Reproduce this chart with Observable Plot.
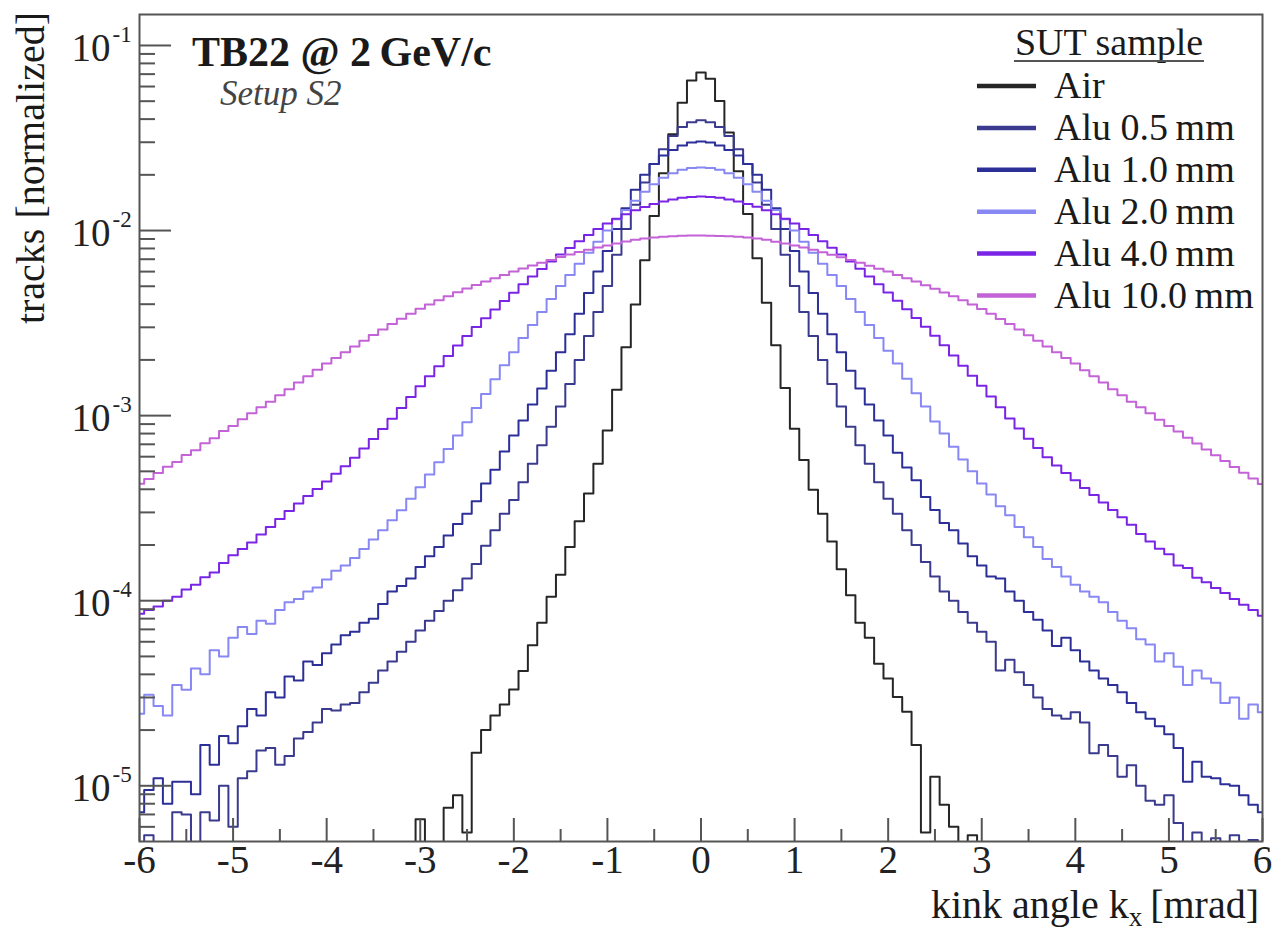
<!DOCTYPE html>
<html>
<head>
<meta charset="utf-8">
<script src="https://cdn.jsdelivr.net/npm/d3@7"></script>
<script src="https://cdn.jsdelivr.net/npm/@observablehq/plot@0.6"></script>
<style>
  html, body { margin: 0; padding: 0; background: #fff; }
  svg { display: block; }
</style>
</head>
<body>
<div id="chart"></div>
<script>
// Bin centres of the kink-angle histograms [mrad], 0.1 mrad bins
const kinkAngle = d3.range(-60, 61).map(i => i / 10);

// Normalised track counts per bin (0 = empty bin)
const air = [
  0,0,0,0,0,0,0,0,0,0,
  0,0,0,0,0,0,0,0,0,0,
  0,0,0,0,0,0,0,0,0,0,
  6.6e-6,0,0,7.6e-6,8.9e-6,5.6e-6,1.51e-5,2.0e-5,2.4e-5,2.75e-5,
  3.31e-5,4.17e-5,5.75e-5,7.6e-5,1.05e-4,1.38e-4,1.95e-4,2.69e-4,3.8e-4,5.5e-4,
  8.3e-4,1.38e-3,2.34e-3,3.98e-3,6.92e-3,1.2e-2,2.04e-2,3.31e-2,4.9e-2,6.46e-2,
  7.14e-2,
  6.61e-2,5.01e-2,3.39e-2,2.09e-2,1.23e-2,7.08e-3,4.07e-3,2.4e-3,1.41e-3,8.5e-4,
  5.75e-4,3.98e-4,2.95e-4,2.09e-4,1.48e-4,1.07e-4,7.6e-5,6.3e-5,4.57e-5,3.8e-5,
  3.02e-5,2.51e-5,1.66e-5,5.6e-6,1.12e-5,7.9e-6,6.0e-6,0,5.4e-6,0,
  0,0,0,0,0,0,0,0,0,0,
  0,0,0,0,0,0,0,0,0,0,
  0,0,0,0,0,0,0,0,0,0
];
const alu05 = [
  3.0e-6,5.4e-6,3.0e-6,4.0e-6,7.2e-6,7.0e-6,4.0e-6,7.2e-6,6.5e-6,1.0e-5,
  6.0e-6,1.1e-5,1.2e-5,1.55e-5,1.6e-5,1.3e-5,1.45e-5,1.8e-5,1.95e-5,2.2e-5,
  2.6e-5,2.55e-5,2.75e-5,2.8e-5,3.2e-5,3.6e-5,4.2e-5,4.7e-5,5.3e-5,6.0e-5,
  6.9e-5,7.8e-5,8.8e-5,1.0e-4,1.14e-4,1.32e-4,1.58e-4,1.98e-4,2.4e-4,2.95e-4,
  3.5e-4,4.37e-4,5.5e-4,6.92e-4,8.71e-4,1.12e-3,1.48e-3,2.0e-3,2.69e-3,3.63e-3,
  5.01e-3,7.41e-3,1.02e-2,1.38e-2,1.82e-2,2.29e-2,2.75e-2,3.24e-2,3.63e-2,3.85e-2,
  3.94e-2,
  3.85e-2,3.63e-2,3.24e-2,2.75e-2,2.29e-2,1.82e-2,1.38e-2,1.02e-2,7.41e-3,5.01e-3,
  3.63e-3,2.69e-3,2.0e-3,1.48e-3,1.12e-3,8.71e-4,6.92e-4,5.5e-4,4.37e-4,3.55e-4,
  2.95e-4,2.4e-4,2.0e-4,1.62e-4,1.35e-4,1.12e-4,1.0e-4,8.7e-5,7.6e-5,6.8e-5,
  6.0e-5,4.2e-5,4.8e-5,4.1e-5,3.5e-5,3.0e-5,2.6e-5,2.4e-5,2.3e-5,2.5e-5,
  2.2e-5,1.5e-5,1.66e-5,1.45e-5,1.12e-5,1.29e-5,1.0e-5,8.3e-6,7.9e-6,8.9e-6,
  6.3e-6,4.5e-6,5.6e-6,4.0e-6,5.2e-6,3.5e-6,5.4e-6,3.2e-6,5.1e-6,3.2e-6
];
const alu10 = [
  7.2e-6,9.5e-6,1.1e-5,8.0e-6,1.05e-5,1.05e-5,9.0e-6,1.66e-5,1.3e-5,1.86e-5,
  1.7e-5,2.1e-5,2.6e-5,2.4e-5,3.2e-5,3.0e-5,3.9e-5,3.7e-5,4.7e-5,4.5e-5,
  5.2e-5,5.8e-5,6.5e-5,6.8e-5,7.6e-5,8.0e-5,9.6e-5,1.12e-4,1.2e-4,1.32e-4,
  1.52e-4,1.74e-4,1.95e-4,2.25e-4,2.6e-4,2.95e-4,3.45e-4,4.3e-4,5.1e-4,6.4e-4,
  7.8e-4,9.4e-4,1.15e-3,1.4e-3,1.75e-3,2.2e-3,2.75e-3,3.55e-3,4.6e-3,6.0e-3,
  7.76e-3,1.02e-2,1.32e-2,1.66e-2,2.0e-2,2.29e-2,2.54e-2,2.72e-2,2.88e-2,2.99e-2,
  3.03e-2,
  2.99e-2,2.88e-2,2.72e-2,2.54e-2,2.29e-2,2.0e-2,1.66e-2,1.32e-2,1.02e-2,7.76e-3,
  6.0e-3,4.6e-3,3.55e-3,2.75e-3,2.2e-3,1.75e-3,1.4e-3,1.15e-3,9.4e-4,7.8e-4,
  6.31e-4,5.25e-4,4.47e-4,3.63e-4,3.09e-4,2.63e-4,2.4e-4,2.04e-4,1.74e-4,1.55e-4,
  1.35e-4,1.32e-4,1.12e-4,1.0e-4,8.7e-5,7.9e-5,6.9e-5,5.7e-5,6.3e-5,5.4e-5,
  4.7e-5,4.2e-5,3.8e-5,3.5e-5,3.2e-5,2.8e-5,2.5e-5,2.3e-5,2.1e-5,1.9e-5,
  1.6e-5,1.05e-5,1.35e-5,1.12e-5,1.1e-5,1.02e-5,1.0e-5,8.9e-6,7.9e-6,7.2e-6
];
const alu20 = [
  2.45e-5,3.1e-5,2.7e-5,2.4e-5,3.5e-5,3.3e-5,4.3e-5,4.0e-5,5.4e-5,5.0e-5,
  6.3e-5,7.2e-5,6.6e-5,7.8e-5,7.5e-5,8.9e-5,9.8e-5,1.02e-4,1.12e-4,1.18e-4,
  1.3e-4,1.45e-4,1.55e-4,1.7e-4,1.9e-4,2.14e-4,2.4e-4,2.72e-4,3.08e-4,3.55e-4,
  4.1e-4,4.8e-4,5.6e-4,6.6e-4,7.8e-4,9.2e-4,1.1e-3,1.31e-3,1.57e-3,1.87e-3,
  2.2e-3,2.63e-3,3.09e-3,3.63e-3,4.27e-3,5.01e-3,5.75e-3,6.61e-3,7.59e-3,8.71e-3,
  1.0e-2,1.15e-2,1.29e-2,1.45e-2,1.62e-2,1.78e-2,1.93e-2,2.04e-2,2.13e-2,2.18e-2,
  2.19e-2,
  2.18e-2,2.13e-2,2.04e-2,1.93e-2,1.78e-2,1.62e-2,1.45e-2,1.29e-2,1.15e-2,1.0e-2,
  8.71e-3,7.59e-3,6.61e-3,5.75e-3,5.01e-3,4.27e-3,3.63e-3,3.09e-3,2.63e-3,2.24e-3,
  1.91e-3,1.58e-3,1.32e-3,1.12e-3,9.3e-4,8.0e-4,6.8e-4,5.8e-4,5.0e-4,4.3e-4,
  3.75e-4,3.24e-4,2.9e-4,2.5e-4,2.2e-4,1.95e-4,1.68e-4,1.52e-4,1.35e-4,1.22e-4,
  1.12e-4,1.05e-4,9.8e-5,8.7e-5,7.8e-5,7.1e-5,6.2e-5,5.8e-5,4.7e-5,5.2e-5,
  4.4e-5,3.5e-5,4.2e-5,3.8e-5,3.6e-5,2.8e-5,3.0e-5,2.3e-5,2.75e-5,2.5e-5
];
const alu40 = [
  8.5e-5,8.9e-5,9.3e-5,1.0e-4,1.05e-4,1.15e-4,1.22e-4,1.34e-4,1.42e-4,1.6e-4,
  1.76e-4,1.9e-4,2.06e-4,2.28e-4,2.5e-4,2.76e-4,3.05e-4,3.35e-4,3.68e-4,4.02e-4,
  4.4e-4,4.85e-4,5.33e-4,5.92e-4,6.65e-4,7.48e-4,8.48e-4,9.62e-4,1.1e-3,1.26e-3,
  1.44e-3,1.63e-3,1.85e-3,2.1e-3,2.39e-3,2.69e-3,3.01e-3,3.36e-3,3.75e-3,4.16e-3,
  4.61e-3,5.12e-3,5.64e-3,6.2e-3,6.8e-3,7.42e-3,8.06e-3,8.74e-3,9.45e-3,1.018e-2,
  1.09e-2,1.158e-2,1.224e-2,1.287e-2,1.342e-2,1.392e-2,1.434e-2,1.471e-2,1.502e-2,1.519e-2,
  1.528e-2,
  1.52e-2,1.503e-2,1.472e-2,1.435e-2,1.393e-2,1.343e-2,1.288e-2,1.225e-2,1.159e-2,1.091e-2,
  1.019e-2,9.46e-3,8.75e-3,8.07e-3,7.43e-3,6.81e-3,6.21e-3,5.65e-3,5.13e-3,4.62e-3,
  4.17e-3,3.76e-3,3.37e-3,3.02e-3,2.7e-3,2.4e-3,2.11e-3,1.86e-3,1.64e-3,1.45e-3,
  1.27e-3,1.11e-3,9.66e-4,8.51e-4,7.5e-4,6.68e-4,5.96e-4,5.37e-4,4.9e-4,4.47e-4,
  4.07e-4,3.72e-4,3.39e-4,3.09e-4,2.82e-4,2.57e-4,2.29e-4,2.09e-4,1.91e-4,1.78e-4,
  1.55e-4,1.5e-4,1.33e-4,1.26e-4,1.17e-4,1.1e-4,1.02e-4,9.5e-5,8.9e-5,8.3e-5
];
const alu100 = [
  4.29e-4,4.55e-4,4.9e-4,5.3e-4,5.62e-4,6.12e-4,6.5e-4,7.1e-4,7.55e-4,8.25e-4,
  8.8e-4,9.55e-4,1.03e-3,1.11e-3,1.19e-3,1.29e-3,1.39e-3,1.51e-3,1.63e-3,1.77e-3,
  1.91e-3,2.05e-3,2.2e-3,2.36e-3,2.54e-3,2.73e-3,2.92e-3,3.13e-3,3.34e-3,3.55e-3,
  3.78e-3,3.99e-3,4.2e-3,4.42e-3,4.64e-3,4.86e-3,5.08e-3,5.3e-3,5.53e-3,5.76e-3,
  6.0e-3,6.23e-3,6.47e-3,6.7e-3,6.94e-3,7.19e-3,7.42e-3,7.65e-3,7.88e-3,8.1e-3,
  8.31e-3,8.52e-3,8.72e-3,8.92e-3,9.07e-3,9.17e-3,9.26e-3,9.32e-3,9.36e-3,9.39e-3,
  9.4e-3,
  9.38e-3,9.35e-3,9.31e-3,9.25e-3,9.16e-3,9.06e-3,8.91e-3,8.71e-3,8.51e-3,8.3e-3,
  8.09e-3,7.87e-3,7.64e-3,7.41e-3,7.18e-3,6.93e-3,6.7e-3,6.46e-3,6.22e-3,6.0e-3,
  5.75e-3,5.52e-3,5.3e-3,5.07e-3,4.85e-3,4.63e-3,4.42e-3,4.2e-3,3.98e-3,3.77e-3,
  3.55e-3,3.33e-3,3.13e-3,2.92e-3,2.72e-3,2.54e-3,2.36e-3,2.2e-3,2.05e-3,1.91e-3,
  1.76e-3,1.63e-3,1.51e-3,1.39e-3,1.29e-3,1.19e-3,1.11e-3,1.03e-3,9.5e-4,8.8e-4,
  8.2e-4,7.6e-4,7.06e-4,6.56e-4,6.1e-4,5.68e-4,5.28e-4,4.92e-4,4.58e-4,4.27e-4
];

const seriesNames = ["Air", "Alu 0.5mm", "Alu 1.0mm", "Alu 2.0mm", "Alu 4.0mm", "Alu 10.0mm"];
const seriesLabels = ["Air", "Alu 0.5\u2009mm", "Alu 1.0\u2009mm", "Alu 2.0\u2009mm", "Alu 4.0\u2009mm", "Alu 10.0\u2009mm"];
const seriesValues = [air, alu05, alu10, alu20, alu40, alu100];
const seriesColors = ["#262626", "#3a3a8e", "#2c2f98", "#8888f4", "#7a24e6", "#c462d8"];

const xTicks = [-6, -5, -4, -3, -2, -1, 0, 1, 2, 3, 4, 5, 6];
const xTickLabels = ["-6", "-5", "-4", "-3", "-2", "-1", "0", "1", "2", "3", "4", "5", "6"];
const xHalfTicks = [-5.5, -4.5, -3.5, -2.5, -1.5, -0.5, 0.5, 1.5, 2.5, 3.5, 4.5, 5.5];
const yDecades = [1e-5, 1e-4, 1e-3, 1e-2, 1e-1];
const yExponents = ["-5", "-4", "-3", "-2", "-1"];

const Y_MIN = 5e-6, Y_MAX = 0.147;
const yMinor = [];
for (let e = -6; e <= -1; e++) for (let k = 2; k <= 9; k++) {
  const v = k * Math.pow(10, e);
  if (v > Y_MIN && v < Y_MAX) yMinor.push(v);
}

const rows = [];
seriesValues.forEach((vals, s) => vals.forEach((v, i) => rows.push({series: seriesNames[s], x: kinkAngle[i], v})));

const FONT = "'Liberation Serif', 'Times New Roman', Times, serif";
const AXIS = "#555";

const plot = Plot.plot({
  width: 1275, height: 931,
  marginLeft: 139, marginRight: 13, marginTop: 14, marginBottom: 90,
  style: {fontFamily: FONT, background: "#fff", color: "#222"},
  x: {domain: [-6, 6], axis: null},
  y: {type: "log", domain: [Y_MIN, Y_MAX], axis: null},
  color: {domain: seriesNames, range: seriesColors},
  marks: [
    Plot.line(rows, {x: "x", y: d => d.v > 0 ? d.v : 1e-7, z: "series", stroke: "series",
                     curve: "step", strokeWidth: 2, clip: true}),
    Plot.axisY(yDecades, {anchor: "left", tickSize: -32, tickFormat: () => "", stroke: AXIS, strokeWidth: 2, label: null}),
    Plot.axisY(yMinor, {anchor: "left", tickSize: -16, tickFormat: () => "", stroke: AXIS, strokeWidth: 2, label: null}),
    Plot.axisX(xTicks, {anchor: "bottom", tickSize: -23, tickFormat: () => "", stroke: AXIS, strokeWidth: 2, label: null}),
    Plot.axisX(xHalfTicks, {anchor: "bottom", tickSize: -12, tickFormat: () => "", stroke: AXIS, strokeWidth: 2, label: null}),
    Plot.frame({stroke: AXIS, strokeWidth: 2}),
    Plot.text(yDecades, {y: d => d, frameAnchor: "left", text: () => "10", textAnchor: "end",
                         dx: -29, dy: 3, fontSize: 39, fill: "#222"}),
    Plot.text(yDecades, {y: d => d, frameAnchor: "left", text: (d, i) => yExponents[i], textAnchor: "start",
                         dx: -27, dy: -11, fontSize: 23, fill: "#222"}),
    Plot.text(xTicks, {x: d => d, frameAnchor: "bottom", text: (d, i) => xTickLabels[i], lineAnchor: "top",
                       dy: 4, fontSize: 39, fill: "#222"})
  ]
});

document.getElementById("chart").appendChild(plot);

// Annotations, axis titles and legend (ROOT-style)
const svg = d3.select(plot);
const g = svg.append("g").attr("font-family", FONT).attr("fill", "#1a1a1a").attr("text-anchor", "start");

g.append("text").attr("x", 192).attr("y", 66).attr("font-size", 42).attr("font-weight", "bold")
  .attr("text-anchor", "start").text("TB22 @ 2\u2009GeV/c");
g.append("text").attr("x", 220).attr("y", 105).attr("font-size", 35).attr("font-style", "italic")
  .attr("text-anchor", "start").attr("fill", "#444").text("Setup S2");

g.append("text").attr("transform", "translate(44,12) rotate(-90)").attr("text-anchor", "end")
  .attr("font-size", 40).text("tracks [normalized]");

const xt = g.append("text").attr("x", 1259).attr("y", 918).attr("text-anchor", "end").attr("font-size", 40);
xt.append("tspan").text("kink angle k");
xt.append("tspan").attr("font-size", 27).attr("dy", 8).text("x");
xt.append("tspan").attr("dy", -8).text("\u2009[mrad]");

// Legend
g.append("text").attr("x", 1109).attr("y", 55).attr("text-anchor", "middle").attr("font-size", 38)
  .text("SUT sample");
g.append("line").attr("x1", 1014).attr("x2", 1204).attr("y1", 61).attr("y2", 61)
  .attr("stroke", "#555").attr("stroke-width", 2);
seriesLabels.forEach((lab, i) => {
  const y = 86 + i * 41.9;
  g.append("line").attr("x1", 977).attr("x2", 1036).attr("y1", y).attr("y2", y)
    .attr("stroke", seriesColors[i]).attr("stroke-width", 4.5);
  g.append("text").attr("x", 1054).attr("y", y + 12).attr("font-size", 38)
    .attr("text-anchor", "start").text(lab);
});
</script>
</body>
</html>
